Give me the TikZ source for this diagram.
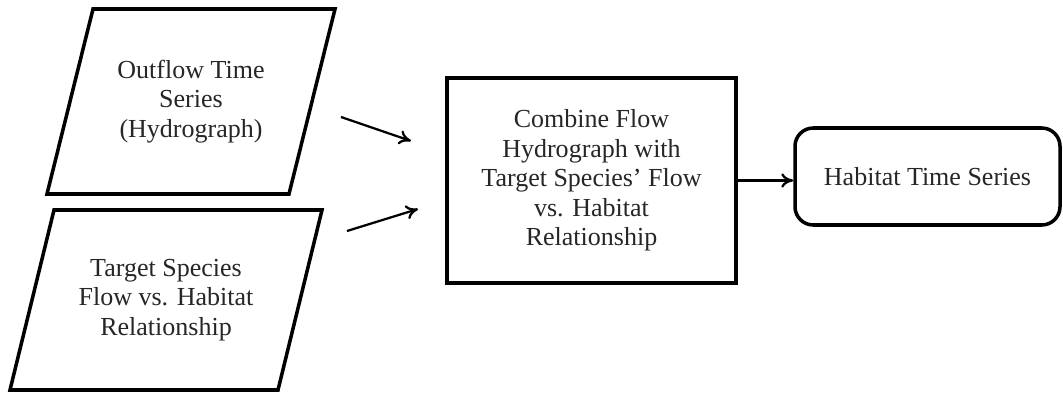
\documentclass[tikz,border=0pt]{standalone}
\usepackage{fontspec}
\setmainfont{Liberation Serif}
\usetikzlibrary{arrows.meta}

\tikzset{
    intext/.style={align=center, text=black!85},
    inline/.style={draw, line width=2.5pt, line join=miter},
    procbox/.style={rectangle, draw, line width=2.5pt, align=center, text=black!85},
    outbox/.style={rectangle, rounded corners=13pt, draw, line width=2.5pt,
        align=center, text=black!85},
}

\begin{document}
\begin{tikzpicture}[>={To[length=3mm, width=3.6mm]}, x=0.25mm, y=-0.25mm, font=\fontsize{18.5}{21}\selectfont]
    \useasboundingbox (0,0) rectangle (1063,396);

    % inputs
    \node[intext] (outflow) at (191,101.5) {Outflow Time\\Series\\(Hydrograph)};
    \draw[inline] ([shift={(-144,92.5)}]outflow.center) -- ++(242,0) -- ++(46,-185) -- ++(-242,0) -- cycle;
    \node[intext] (target) at (166,300) {Target Species\\Flow vs. Habitat\\Relationship};
    \draw[inline] ([shift={(-156,90)}]target.center) -- ++(268,0) -- ++(44,-180) -- ++(-268,0) -- cycle;

    % process and result
    \node[procbox, minimum width=72.25mm, minimum height=51.25mm] (combine) at (591.5,180.5)
        {Combine Flow\\Hydrograph with\\Target Species' Flow\\vs. Habitat\\Relationship};
    \node[outbox, minimum width=66.25mm, minimum height=24.25mm] (habitat) at (927.5,176.5)
        {Habitat Time Series};

    % arrows
    \coordinate (a1s) at (341,117);
    \coordinate (a1e) at (411,141);
    \coordinate (a2s) at (347,231);
    \coordinate (a2e) at (418,209);
    \draw[->, line width=1.6pt] (a1s) -- (a1e);
    \draw[->, line width=1.6pt] (a2s) -- (a2e);
    \draw[->, line width=1.6pt] (combine.east) -- (combine.east -| habitat.west);
\end{tikzpicture}
\end{document}
